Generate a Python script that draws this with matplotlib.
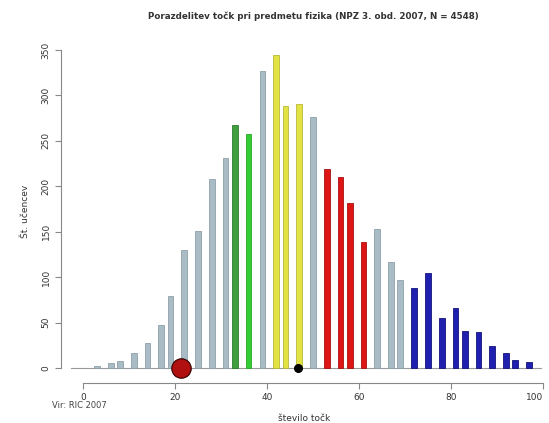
import matplotlib
matplotlib.use("Agg")
import matplotlib.pyplot as plt

# score in percent (rounded), and number of pupils
points = [3, 6, 8, 11, 14, 17, 19, 22, 25, 28, 31, 33, 36, 39, 42, 44, 47, 50,
          53, 56, 58, 61, 64, 67, 69, 72, 75, 78, 81, 83, 86, 89, 92, 94, 97]
counts = [2, 5, 8, 16, 28, 47, 79, 130, 151, 208, 231, 267, 258, 327, 344, 288, 291, 276,
          219, 210, 182, 139, 153, 117, 97, 88, 104, 55, 66, 41, 40, 24, 16, 9, 7]
groups = ["g"] * 11 + ["G", "G2"] + ["g"] + ["y"] * 3 + ["g"] + ["r"] * 4 + ["g"] * 3 + ["b"] * 10

limit_school = 21.2   # red marker
mean_score = 46.7     # black marker

fill = {"g": "#a9bcc6", "G": "#3f9f3f", "G2": "#33cc33", "y": "#e2e244", "r": "#dd1515", "b": "#1f1fb0"}
edge = {"g": "#8fa1aa", "G": "#2f7f2f", "G2": "#28a828", "y": "#b8b838", "r": "#a81010", "b": "#14147a"}

fig = plt.figure(figsize=(5.49, 4.23), dpi=100)
ax = fig.add_axes([0.1111, 0.0946, 0.887, 0.8109])

for x, c, g in zip(points, counts, groups):
    ax.bar(x, c, width=1.25, color=fill[g], edgecolor=edge[g], linewidth=0.6)

ax.axhline(0, xmin=0.02, xmax=0.985, color="#999999", lw=0.8, zorder=0)
ax.plot([limit_school], [0], "o", ms=14, color="#b01010", mec="#300000", mew=0.8, clip_on=False, zorder=5)
ax.plot([mean_score], [0], "o", ms=5.5, color="black", clip_on=False, zorder=5)

ax.set_xlim(-4.8, 101.1)
ax.set_ylim(-16.5, 361)

for s in ["top", "right"]:
    ax.spines[s].set_visible(False)
ax.spines["left"].set_bounds(0, 350)
ax.spines["bottom"].set_bounds(0, 100)
ax.spines["left"].set_color("#888888")
ax.spines["bottom"].set_color("#888888")

ax.set_xticks([0, 20, 40, 60, 80, 100])
ax.set_yticks(range(0, 351, 50))
ax.tick_params(colors="#888888", labelcolor="#333333", labelsize=6.5, length=4, width=0.8)
for lab in ax.get_yticklabels():
    lab.set_rotation(90)
    lab.set_va("center")
# keep the last x label inside the canvas
ax.get_xticklabels()[-1].set_ha("right")

ax.set_ylabel("Št. učencev", fontsize=6.5, color="#333333", labelpad=8)
ax.set_xlabel("število točk", fontsize=6.5, color="#333333", labelpad=8)

fig.text(0.571, 0.962, "Porazdelitev točk pri predmetu fizika (NPZ 3. obd. 2007, N = 4548)",
         ha="center", va="center", fontsize=6.3, fontweight="bold", color="#333333")
fig.text(0.095, 0.035, "Vir: RIC 2007", fontsize=6, color="#444444")

fig.savefig("out.png", dpi=100)
